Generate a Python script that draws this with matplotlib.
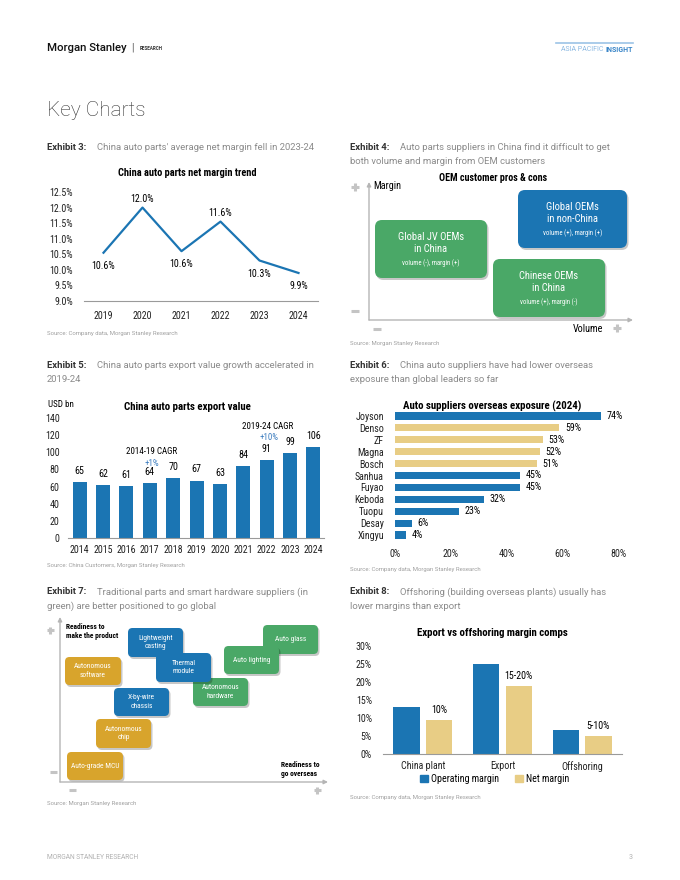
import matplotlib.pyplot as plt
from matplotlib.patches import FancyBboxPatch, Patch

W, H = 680, 880

BLUE = "#1B75B3"
TAN = "#E8CD85"
GREEN = "#4AA867"
GOLD = "#D8A42C"
GRAY_TXT = "#8a8a8a"
AXIS_GRAY = "#9a9a9a"
SIGN_GRAY = "#c4c4c4"

COND = ['Roboto Condensed', 'Liberation Sans Narrow', 'Roboto', 'DejaVu Sans']
BODY = ['Roboto', 'DejaVu Sans']
plt.rcParams['font.family'] = COND
plt.rcParams['font.stretch'] = 'condensed'

# ---- data ----
# exhibit 3
margin_years = ["2019", "2020", "2021", "2022", "2023", "2024"]
margin_vals = [10.55, 12.0, 10.6, 11.55, 10.3, 9.9]
margin_labels = ["10.6%", "12.0%", "10.6%", "11.6%", "10.3%", "9.9%"]
margin_lbl_pos = ["below", "above", "below", "above", "below", "below"]

# exhibit 5
export_years = ["2014", "2015", "2016", "2017", "2018", "2019",
                "2020", "2021", "2022", "2023", "2024"]
export_vals = [65, 62, 61, 64, 70, 67, 63, 84, 91, 99, 106]

# exhibit 6
suppliers = ["Joyson", "Denso", "ZF", "Magna", "Bosch", "Sanhua",
             "Fuyao", "Keboda", "Tuopu", "Desay", "Xingyu"]
overseas = [74, 59, 53, 52, 51, 45, 45, 32, 23, 6, 4]
global_leader = [False, True, True, True, True, False,
                 False, False, False, False, False]

# exhibit 8
comp_groups = ["China plant", "Export", "Offshoring"]
op_margin = [13, 25, 6.7]
net_margin = [9.5, 19, 5]
net_labels = ["10%", "15-20%", "5-10%"]

# exhibit 4 boxes (volume/margin space, page pixels)
oem_boxes = [
    ("Global JV OEMs\nin China", "volume (-), margin (+)", GREEN, 375, 220, 487, 278),
    ("Global OEMs\nin non-China", "volume (+), margin (+)", BLUE, 518, 190, 627, 248),
    ("Chinese OEMs\nin China", "volume (+), margin (-)", GREEN, 493, 259, 605, 317),
]

# exhibit 7 boxes (readiness space, page pixels)
ready_boxes = [
    ("Lightweight\ncasting", BLUE, 128, 628, 183, 657),
    ("Auto glass", GREEN, 263, 625, 318, 654),
    ("Autonomous\nsoftware", GOLD, 65, 657, 121, 685),
    ("Autonomous\nhardware", GREEN, 193, 678, 248, 706),
    ("Thermal\nmodule", BLUE, 156, 653, 211, 682),
    ("Auto lighting", GREEN, 224, 646, 279, 674),
    ("X-by-wire\nchassis", BLUE, 114, 688, 169, 716),
    ("Autonomous\nchip", GOLD, 96, 719, 151, 748),
    ("Auto-grade MCU", GOLD, 67, 752, 123, 780),
]

fig = plt.figure(figsize=(W / 100, H / 100), dpi=100)


def fx(x):
    return x / W


def fy(y):
    return 1 - y / H


def txt(x, y, s, **kw):
    kw.setdefault('va', 'center')
    return fig.text(fx(x), fy(y), s, **kw)


def sign(x, y, plus, half=4):
    # thick grey plus / minus marks next to the diagram axes
    fig.add_artist(plt.Line2D([fx(x - half), fx(x + half)], [fy(y), fy(y)],
                              color=SIGN_GRAY, lw=2.2, solid_capstyle='butt'))
    if plus:
        fig.add_artist(plt.Line2D([fx(x), fx(x)], [fy(y - half), fy(y + half)],
                                  color=SIGN_GRAY, lw=2.2, solid_capstyle='butt'))


def new_ax(l, t, r, b):
    return fig.add_axes([fx(l), fy(b), (r - l) / W, (b - t) / H])


def clean(ax, bottom=True):
    for s in ["top", "right", "left"]:
        ax.spines[s].set_visible(False)
    ax.spines["bottom"].set_visible(bottom)
    ax.spines["bottom"].set_color(AXIS_GRAY)
    ax.tick_params(length=0, labelsize=7.2, colors="#222222")


def heading(x, y, num, lines, indent):
    txt(x, y, f"Exhibit {num}:", fontsize=6.8, fontweight='bold',
        color="#333333", family=BODY)
    txt(x + indent, y, lines[0], fontsize=6.8, color=GRAY_TXT, family=BODY)
    if len(lines) > 1:
        txt(x, y + 14.5, lines[1], fontsize=6.8, color=GRAY_TXT, family=BODY)


def source(x, y, s):
    txt(x, y, s, fontsize=4.3, color="#a0a0a0", family=BODY)


def rbox(ax, x0, y0, x1, y1, color, r):
    sh = FancyBboxPatch((x0 + 1.5, y0 + 2), x1 - x0, y1 - y0,
                        boxstyle=f"round,pad=0,rounding_size={r}",
                        fc="#000000", ec="none", alpha=0.22)
    ax.add_patch(sh)
    bx = FancyBboxPatch((x0, y0), x1 - x0, y1 - y0,
                        boxstyle=f"round,pad=0,rounding_size={r}",
                        fc=color, ec="none")
    ax.add_patch(bx)


def diagram_ax(l, t, r, b):
    ax = new_ax(l, t, r, b)
    ax.set_xlim(l, r)
    ax.set_ylim(b, t)
    ax.axis('off')
    return ax


def arrow(ax, x0, y0, x1, y1):
    ax.annotate("", xy=(x1, y1), xytext=(x0, y0),
                arrowprops=dict(arrowstyle="-|>", color="#b5b5b5", lw=1,
                                mutation_scale=6, shrinkA=0, shrinkB=0))


# ---- page header ----
txt(47, 48, "Morgan Stanley", fontsize=8.2, fontweight='medium',
    color="#111111", family=BODY)
txt(131, 48, "|", fontsize=7, color="#555555", family=BODY)
txt(140, 48.5, "RESEARCH", fontsize=3.3, fontweight='bold',
    color="#333333", family=BODY)
fig.add_artist(plt.Line2D([fx(556), fx(633)], [fy(43), fy(43)],
                          color="#9cc3e6", lw=1.2))
txt(633, 49.5, "INSIGHT", fontsize=5, fontweight='bold', color="#3b86c8",
    ha='right', family=BODY)
txt(603, 49.5, "ASIA PACIFIC", fontsize=5, color="#8cb9e2",
    ha='right', family=BODY)
txt(47, 111, "Key Charts", fontsize=15, fontweight='light',
    color="#333333", family=BODY)

# ---- exhibit 3 ----
heading(47, 147, 3, ["China auto parts' average net margin fell in 2023-24"], 50)
txt(187, 173, "China auto parts net margin trend", fontsize=7.5,
    fontweight='bold', ha='center')
ax = new_ax(84, 192, 318, 301)
xs = list(range(len(margin_years)))
ax.plot(xs, margin_vals, color=BLUE, lw=1.6)
for x, v, lab, pos in zip(xs, margin_vals, margin_labels, margin_lbl_pos):
    off = 6 if pos == "above" else -9.5
    ax.annotate(lab, (x, v), xytext=(0, off), textcoords='offset points',
                ha='center', va='center', fontsize=7.2)
ax.set_xlim(-0.5, 5.5)
ax.set_ylim(9.0, 12.5)
ax.set_yticks([9.0 + 0.5 * i for i in range(8)])
ax.set_yticklabels([f"{9.0 + 0.5 * i:.1f}%" for i in range(8)])
ax.set_xticks(xs)
ax.set_xticklabels(margin_years)
clean(ax)
ax.tick_params(axis='x', pad=7)
ax.tick_params(axis='y', pad=8)
source(47, 333, "Source: Company data, Morgan Stanley Research")

# ---- exhibit 4 ----
heading(350, 147, 4, ["Auto parts suppliers in China find it difficult to get",
                      "both volume and margin from OEM customers"], 50)
txt(493, 178, "OEM customer pros & cons", fontsize=7.2, fontweight='bold',
    ha='center')
ax = diagram_ax(345, 175, 640, 335)
arrow(ax, 369, 320, 369, 182)
arrow(ax, 369, 320, 633, 320)
for name, sub, col, x0, y0, x1, y1 in oem_boxes:
    rbox(ax, x0, y0, x1, y1, col, 7)
    cx = (x0 + x1) / 2
    ax.text(cx, y0 + 23, name, color="white", fontsize=7.6, ha='center',
            va='center', linespacing=1.15)
    ax.text(cx, y0 + 43, sub, color="white", fontsize=4.9, ha='center',
            va='center')
txt(373, 186, "Margin", fontsize=7.3)
sign(355, 187, True)
sign(355, 311, False)
sign(377, 329, False)
txt(603, 329, "Volume", fontsize=7.3, ha='right')
sign(617, 328, True)
source(350, 343, "Source: Morgan Stanley Research")

# ---- exhibit 5 ----
heading(47, 365, 5, ["China auto parts export value growth accelerated in",
                     "2019-24"], 50)
txt(187, 407, "China auto parts export value", fontsize=7.8,
    fontweight='bold', ha='center')
txt(48, 404, "USD bn", fontsize=6.5)
ax = new_ax(68, 418, 324, 538)
xs = list(range(len(export_years)))
bars = ax.bar(xs, export_vals, width=0.6, color=BLUE)
for x, v in zip(xs, export_vals):
    ax.annotate(f"{v}", (x, v), xytext=(0, 8), textcoords='offset points',
                ha='center', va='center', fontsize=7.2)
ax.set_xlim(-0.5, 10.45)
ax.set_ylim(0, 140)
ax.set_yticks(range(0, 141, 20))
ax.set_xticks(xs)
ax.set_xticklabels(export_years)
clean(ax)
ax.tick_params(axis='x', pad=5)
ax.tick_params(axis='y', pad=6)
txt(152, 451, "2014-19 CAGR", fontsize=6.5, ha='center')
txt(152, 463, "+1%", fontsize=6.5, ha='center', color="#3f7fc0")
txt(268, 426, "2019-24 CAGR", fontsize=6.5, ha='center')
txt(269, 437, "+10%", fontsize=6.5, ha='center', color="#3f7fc0")
source(47, 566, "Source: China Customers, Morgan Stanley Research")

# ---- exhibit 6 ----
heading(350, 365, 6, ["China auto suppliers have had lower overseas",
                      "exposure than global leaders so far"], 50)
ax = new_ax(395, 410, 618, 541)
ys = list(range(len(suppliers)))
cols = [TAN if g else BLUE for g in global_leader]
ax.barh(ys, overseas, height=0.6, color=cols)
for y, v in zip(ys, overseas):
    ax.annotate(f"{v}%", (v, y), xytext=(4, 0), textcoords='offset points',
                ha='left', va='center', fontsize=7.2)
ax.set_xlim(0, 80)
ax.set_ylim(len(suppliers) - 0.5, -0.5)
ax.set_yticks(ys)
ax.set_yticklabels(suppliers)
ax.set_xticks(range(0, 81, 20))
ax.set_xticklabels([f"{t}%" for t in range(0, 81, 20)])
clean(ax, bottom=False)
ax.tick_params(axis='x', pad=6)
ax.tick_params(axis='y', pad=8)
txt(492, 406, "Auto suppliers overseas exposure (2024)", fontsize=7.8,
    fontweight='bold', ha='center')
source(350, 569, "Source: Company data, Morgan Stanley Research")

# ---- exhibit 7 ----
heading(47, 592, 7, ["Traditional parts and smart hardware suppliers (in",
                     "green) are better positioned to go global"], 50)
ax = diagram_ax(45, 612, 335, 800)
arrow(ax, 60, 782, 60, 617)
arrow(ax, 60, 782, 328, 782)
for name, col, x0, y0, x1, y1 in ready_boxes:
    rbox(ax, x0, y0, x1, y1, col, 4.5)
    ax.text((x0 + x1) / 2, (y0 + y1) / 2, name, color="white", fontsize=5.4,
            ha='center', va='center', linespacing=1.25)
txt(66, 627, "Readiness to", fontsize=5.4, fontweight='bold')
txt(66, 636, "make the product", fontsize=5.4, fontweight='bold')
txt(281, 765, "Readiness to", fontsize=5.4, fontweight='bold')
txt(281, 774, "go overseas", fontsize=5.4, fontweight='bold')
sign(50, 630, True, 3.5)
sign(53, 772, False, 3.5)
sign(72, 790, False, 3.5)
sign(317, 790, True, 3.5)
source(47, 803, "Source: Morgan Stanley Research")

# ---- exhibit 8 ----
heading(350, 592, 8, ["Offshoring (building overseas plants) usually has",
                      "lower margins than export"], 50)
txt(492, 633, "Export vs offshoring margin comps", fontsize=7.8,
    fontweight='bold', ha='center')
ax = new_ax(383, 646, 622, 754)
xs = list(range(len(comp_groups)))
ax.bar([x - 0.205 for x in xs], op_margin, width=0.33, color=BLUE)
ax.bar([x + 0.205 for x in xs], net_margin, width=0.33, color=TAN)
for x, v, lab in zip(xs, net_margin, net_labels):
    ax.annotate(lab, (x + 0.205, v), xytext=(0, 7), textcoords='offset points',
                ha='center', va='center', fontsize=7.2)
ax.set_xlim(-0.5, 2.5)
ax.set_ylim(0, 30)
ax.set_yticks(range(0, 31, 5))
ax.set_yticklabels([f"{t}%" for t in range(0, 31, 5)])
ax.set_xticks(xs)
ax.set_xticklabels(comp_groups)
clean(ax)
ax.tick_params(axis='x', pad=5)
ax.tick_params(axis='y', pad=8)
fig.legend(handles=[Patch(color=BLUE, label="Operating margin"),
                    Patch(color=TAN, label="Net margin")],
           loc='center', bbox_to_anchor=(fx(495), fy(779)), ncol=2,
           frameon=False, fontsize=7.2, handlelength=0.75, handleheight=0.75,
           handletextpad=0.35, columnspacing=1.6, borderpad=0)
source(350, 797, "Source: Company data, Morgan Stanley Research")

# ---- footer ----
txt(47, 857, "MORGAN STANLEY RESEARCH", fontsize=4.8, color="#b0b0b0",
    family=BODY)
txt(633, 857, "3", fontsize=5, color="#b0b0b0", ha='right', family=BODY)

fig.savefig("out.png", dpi=100)
